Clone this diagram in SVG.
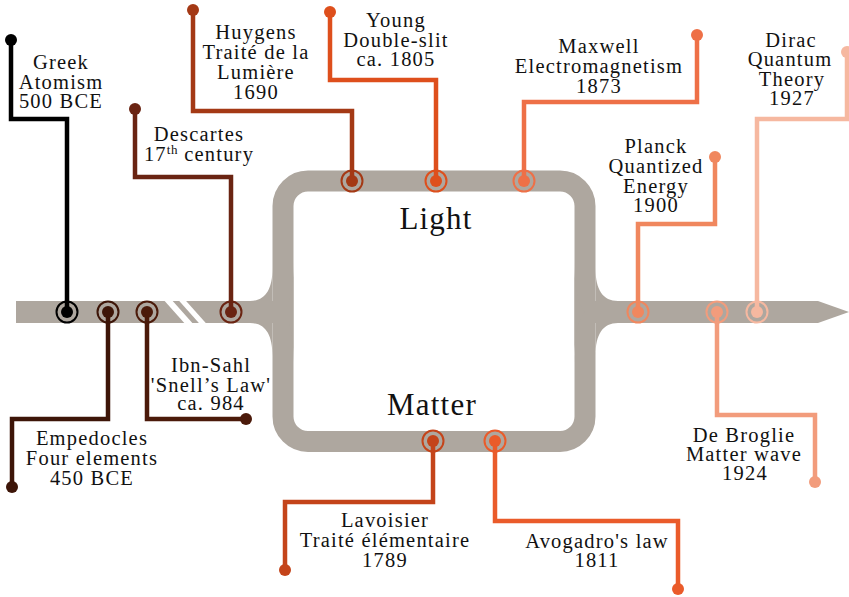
<svg xmlns="http://www.w3.org/2000/svg" width="849" height="597" viewBox="0 0 849 597">
<style>
text{font-family:"Liberation Serif","Times New Roman",serif;font-size:20.5px;letter-spacing:1.2px;text-anchor:middle;fill:#111}
.big{font-size:31px;letter-spacing:1.2px}
.gray{fill:#aea79f}
.conn path{fill:none;stroke-width:4.5}
.ring{fill:none;stroke-width:2}
</style>
<rect width="849" height="597" fill="#fff"/>
<g id="track">
<rect class="gray" x="16" y="301" width="260" height="22"/>
<rect class="gray" x="590" y="301" width="228" height="22"/>
<polygon class="gray" points="818,301 849,312 818,323"/>
<rect x="283" y="181" width="302" height="260.5" rx="25" fill="none" stroke="#aea79f" stroke-width="21"/>
<path class="gray" d="M272.5,268 C272.5,290 265,301 250,301 L250,323 C265,323 272.5,334 272.5,356 Z"/>
<path class="gray" d="M293.5,262 C293.5,290 290,304 283,312 C290,320 293.5,334 293.5,362 Z"/>
<path class="gray" d="M595.5,268 C595.5,290 603,301 618,301 L618,323 C603,323 595.5,334 595.5,356 Z"/>
<path class="gray" d="M574.5,262 C574.5,290 578,304 585,312 C578,320 574.5,334 574.5,362 Z"/>
<line x1="166" y1="298" x2="191" y2="326" stroke="#fff" stroke-width="6"/>
<line x1="180" y1="298" x2="205" y2="326" stroke="#fff" stroke-width="5"/>
</g>
<g id="connectors" class="conn">
<path d="M11,40 V119 H67 V312" stroke="#000000"/>
<path d="M12,487 V419 H108 V312" stroke="#3d1508"/>
<path d="M147,312 V419 H246" stroke="#4b1a0a"/>
<path d="M135,109 V177 H231 V312" stroke="#6a2412"/>
<path d="M193,10 V111 H352 V181" stroke="#a43915"/>
<path d="M330,12 V80 H436 V181" stroke="#de4f1c"/>
<path d="M697,35 V102 H524 V181" stroke="#ee7047"/>
<path d="M715,157 V224 H638 V312" stroke="#f0875e"/>
<path d="M847,52 V119 H757 V312" stroke="#f6b8a0"/>
<path d="M717,312 V415 H815 V482" stroke="#f29c7c"/>
<path d="M433,441 V502 H285 V570" stroke="#c4441a"/>
<path d="M495,441 V521 H678 V589" stroke="#ea5b2a"/>
</g>
<g id="greek">
<circle cx="11" cy="40" r="6" fill="#000"/>
<circle cx="67" cy="312" r="10.5" class="ring" stroke="#000"/><circle cx="67" cy="312" r="6" fill="#000"/>
<text x="61" y="69">Greek</text><text x="61" y="89">Atomism</text><text x="61" y="108">500 BCE</text>
</g>
<g id="empedocles">
<circle cx="12" cy="487" r="6" fill="#3d1508"/>
<circle cx="108" cy="312" r="10.5" class="ring" stroke="#3d1508"/><circle cx="108" cy="312" r="6" fill="#3d1508"/>
<text x="92" y="445">Empedocles</text><text x="92" y="465">Four elements</text><text x="92" y="485">450 BCE</text>
</g>
<g id="ibnsahl">
<circle cx="246" cy="419" r="6" fill="#4b1a0a"/>
<circle cx="147" cy="312" r="10.5" class="ring" stroke="#4b1a0a"/><circle cx="147" cy="312" r="6" fill="#4b1a0a"/>
<text x="211" y="372">Ibn-Sahl</text><text x="211" y="392">'Snell’s Law'</text><text x="211" y="410">ca. 984</text>
</g>
<g id="descartes">
<circle cx="135" cy="109" r="6" fill="#6a2412"/>
<circle cx="231" cy="312" r="10.5" class="ring" stroke="#6a2412"/><circle cx="231" cy="312" r="6" fill="#6a2412"/>
<text x="199" y="141">Descartes</text>
<text x="199" y="161">17<tspan dy="-7" font-size="13" letter-spacing="0.5">th</tspan><tspan dy="7"> century</tspan></text>
</g>
<g id="huygens">
<circle cx="193" cy="10" r="6" fill="#a43915"/>
<circle cx="352" cy="181" r="10.5" class="ring" stroke="#a43915"/><circle cx="352" cy="181" r="6" fill="#a43915"/>
<text x="256" y="39">Huygens</text><text x="256" y="59">Traité de la</text><text x="256" y="79">Lumière</text><text x="256" y="99">1690</text>
</g>
<g id="young">
<circle cx="330" cy="12" r="6" fill="#de4f1c"/>
<circle cx="436" cy="181" r="10.5" class="ring" stroke="#de4f1c"/><circle cx="436" cy="181" r="6" fill="#de4f1c"/>
<text x="396" y="27">Young</text><text x="396" y="47">Double-slit</text><text x="396" y="66">ca. 1805</text>
</g>
<g id="maxwell">
<circle cx="697" cy="35" r="6" fill="#ee7047"/>
<circle cx="524" cy="181" r="10.5" class="ring" stroke="#ee7047"/><circle cx="524" cy="181" r="6" fill="#ee7047"/>
<text x="599" y="53">Maxwell</text><text x="599" y="73">Electromagnetism</text><text x="599" y="93">1873</text>
</g>
<g id="planck">
<circle cx="715" cy="157" r="6" fill="#f0875e"/>
<circle cx="638" cy="312" r="10.5" class="ring" stroke="#f0875e"/><circle cx="638" cy="312" r="6" fill="#f0875e"/>
<text x="656" y="153">Planck</text><text x="656" y="173">Quantized</text><text x="656" y="193">Energy</text><text x="656" y="212">1900</text>
</g>
<g id="dirac">
<circle cx="847" cy="52" r="6" fill="#f6b8a0"/>
<circle cx="757" cy="312" r="10.5" class="ring" stroke="#f6b8a0"/><circle cx="757" cy="312" r="6" fill="#f6b8a0"/>
<text x="791" y="47">Dirac</text><text x="790" y="66">Quantum</text><text x="792" y="86">Theory</text><text x="792" y="105">1927</text>
</g>
<g id="debroglie">
<circle cx="815" cy="482" r="6" fill="#f29c7c"/>
<circle cx="717" cy="312" r="10.5" class="ring" stroke="#f29c7c"/><circle cx="717" cy="312" r="6" fill="#f29c7c"/>
<text x="744" y="442">De Broglie</text><text x="744" y="461">Matter wave</text><text x="745" y="480">1924</text>
</g>
<g id="lavoisier">
<circle cx="285" cy="570" r="6" fill="#c4441a"/>
<circle cx="433" cy="441" r="10.5" class="ring" stroke="#c4441a"/><circle cx="433" cy="441" r="6" fill="#c4441a"/>
<text x="385" y="527">Lavoisier</text><text x="385" y="547">Traité élémentaire</text><text x="385" y="567">1789</text>
</g>
<g id="avogadro">
<circle cx="678" cy="589" r="6" fill="#ea5b2a"/>
<circle cx="495" cy="441" r="10.5" class="ring" stroke="#ea5b2a"/><circle cx="495" cy="441" r="6" fill="#ea5b2a"/>
<text x="597" y="548">Avogadro's law</text><text x="597" y="567">1811</text>
</g>
<g id="labels">
<text class="big" x="436" y="229">Light</text>
<text class="big" x="432" y="415">Matter</text>
</g>
</svg>
